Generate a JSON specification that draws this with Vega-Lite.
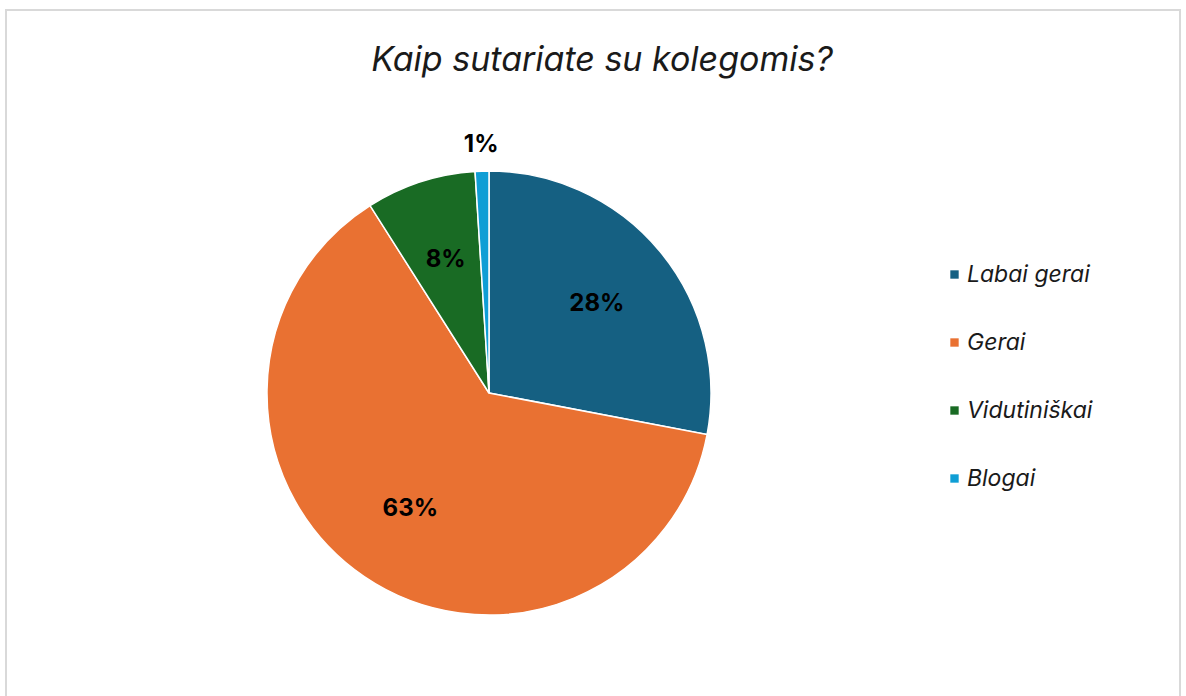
{
  "$schema": "https://vega.github.io/schema/vega-lite/v6.json",
  "width": 1174,
  "height": 700,
  "autosize": {"type": "none"},
  "padding": {"left": 6, "top": 10, "right": 6, "bottom": 0},
  "background": "white",
  "view": {"stroke": "#d9d9d9", "strokeWidth": 2, "fill": "white"},
  "config": {
    "view": {"stroke": "#d9d9d9", "strokeWidth": 2},
    "font": "Inter"
  },
  "title": {
    "text": "Kaip sutariate su kolegomis?",
    "fontSize": 34,
    "fontStyle": "italic",
    "fontWeight": "normal",
    "color": "#1a1a1a",
    "font": "Inter",
    "offset": -68,
    "dx": 9,
    "anchor": "middle"
  },
  "data": {
    "values": [
      {"answer": "Labai gerai", "share": 0.28, "order": 1},
      {"answer": "Gerai", "share": 0.63, "order": 2},
      {"answer": "Vidutiniškai", "share": 0.08, "order": 3},
      {"answer": "Blogai", "share": 0.01, "order": 4}
    ]
  },
  "encoding": {
    "theta": {"field": "share", "type": "quantitative", "stack": true},
    "order": {"field": "order", "type": "quantitative"},
    "color": {
      "field": "answer",
      "type": "nominal",
      "sort": ["Labai gerai", "Gerai", "Vidutiniškai", "Blogai"],
      "scale": {
        "domain": ["Labai gerai", "Gerai", "Vidutiniškai", "Blogai"],
        "range": ["#156082", "#E97132", "#196B24", "#0F9ED5"]
      },
      "legend": {
        "title": null,
        "orient": "none",
        "legendX": 937,
        "legendY": 253,
        "symbolType": "square",
        "symbolSize": 70,
        "symbolStrokeWidth": 0,
        "labelFontSize": 23,
        "labelFont": "Inter",
        "labelFontStyle": "italic",
        "labelColor": "#1a1a1a",
        "labelOffset": 1,
        "rowPadding": 44
      }
    }
  },
  "layer": [
    {
      "mark": {"type": "arc", "outerRadius": 222, "stroke": "white", "strokeWidth": 1.5, "xOffset": -104, "yOffset": 33}
    },
    {
      "mark": {
        "type": "text",
        "radius": {"expr": "datum.share < 0.05 ? 248 : 140"},
        "xOffset": -104,
        "yOffset": 33,
        "fontSize": 24,
        "fontWeight": "bold",
        "font": "Inter",
        "fill": "black"
      },
      "encoding": {
        "text": {"field": "share", "type": "quantitative", "format": ".0%"},
        "color": {"value": "black"}
      }
    }
  ]
}
